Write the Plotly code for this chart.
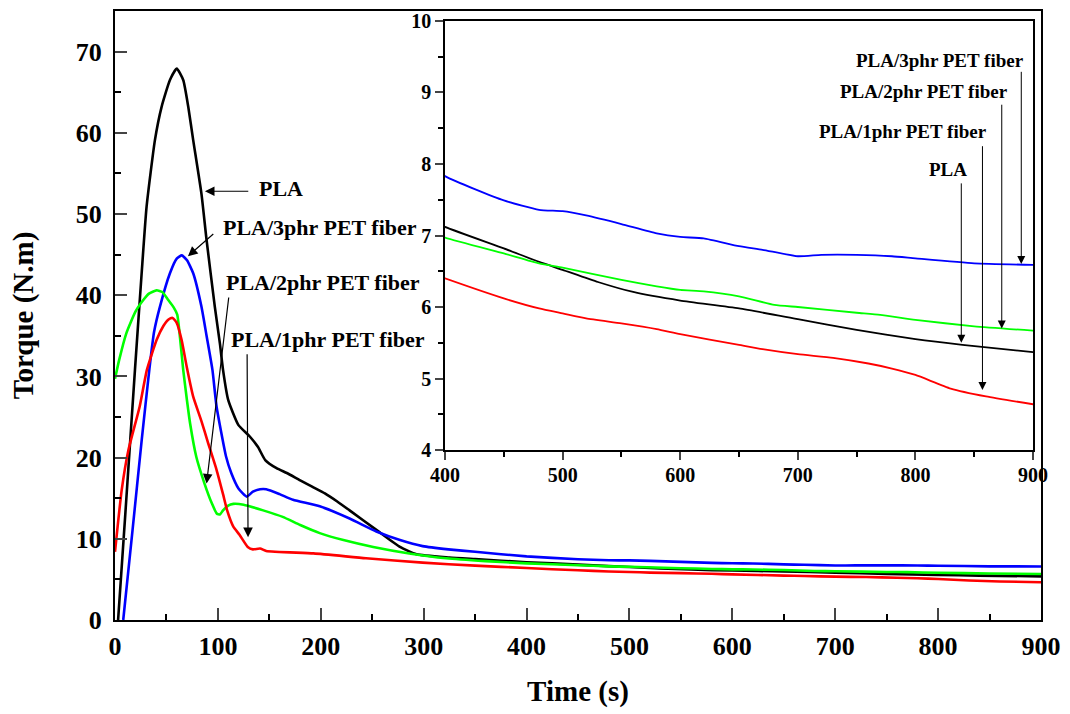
import plotly.graph_objects as go

# Torque curves (time in s, torque in N.m)
t_pla = [3, 10, 19.4, 25.9, 30.7, 38.8, 45.3, 53.4, 60, 66.3, 71.2, 76, 84, 89, 97, 102, 105, 110,
         120, 131, 139, 146, 157, 167, 180, 192, 204, 216, 228, 254, 277, 293, 325, 350, 400, 450,
         480, 500, 530, 560, 600, 650, 700, 750, 800, 840, 900]
v_pla = [0, 13, 30.8, 42.7, 50.9, 59.1, 63.2, 66.5, 67.9, 66.5, 63.2, 59.1, 52.5, 46.8, 38.6, 34, 30.8, 27.1,
         24, 22.6, 21.3, 19.7, 18.7, 18.1, 17.2, 16.4, 15.6, 14.6, 13.5, 11.1, 9.0, 8.1, 7.7, 7.5, 7.12, 6.82,
         6.63, 6.52, 6.35, 6.21, 6.09, 5.98, 5.83, 5.68, 5.55, 5.47, 5.37]

t_3phr = [8, 17, 26, 33.5, 38, 43.7, 53.4, 60, 65, 70, 76, 84, 89, 94.7, 98.7, 108, 113, 120, 128, 134,
          141, 147, 160, 173, 199, 228, 254, 277, 299, 324, 350, 400, 450, 480, 500, 520, 550, 580, 600,
          620, 650, 670, 700, 720, 750, 780, 800, 850, 900]
v_3phr = [0, 11, 22.2, 31, 35.5, 38.6, 42.7, 44.5, 44.9, 44.3, 42.7, 38.6, 35, 30.8, 26.3, 20.1, 18.1, 16.2, 15.2, 15.8,
          16.1, 16.1, 15.5, 14.8, 14.0, 12.5, 10.9, 9.85, 9.1, 8.7, 8.4, 7.83, 7.49, 7.36, 7.34, 7.28, 7.16, 7.03, 6.98,
          6.96, 6.85, 6.80, 6.71, 6.73, 6.73, 6.71, 6.68, 6.61, 6.59]

t_2phr = [0, 4, 11, 20, 27.5, 33, 40.4, 46, 51.8, 57, 60.5, 63, 66.3, 70, 73, 79, 87, 94, 99, 102, 105,
          110, 115, 125, 144, 163, 180, 199, 222, 251, 286, 322, 360, 400, 450, 480, 500, 550, 580, 600,
          620, 650, 680, 700, 750, 770, 800, 850, 900]
v_2phr = [29.7, 32, 35.3, 38, 39.4, 40.2, 40.6, 40.4, 39.4, 38.5, 37.6, 35, 30.8, 27, 24.2, 20.1, 16.8, 14.4, 13.1, 13.0, 13.5,
          14.1, 14.3, 14.2, 13.5, 12.7, 11.7, 10.7, 9.85, 9.0, 8.2, 7.6, 7.25, 6.97, 6.75, 6.61, 6.55, 6.38, 6.29, 6.24,
          6.22, 6.15, 6.03, 6.0, 5.92, 5.89, 5.82, 5.73, 5.67]

t_1phr = [0, 6.5, 13, 24, 31, 40.5, 47, 52, 56, 60, 64.7, 70, 76, 84, 90, 98.7, 105, 109, 115, 121, 129,
          134, 141, 147, 193, 244, 299, 350, 400, 450, 480, 500, 520, 550, 580, 600, 650, 670, 700, 730,
          760, 780, 800, 830, 860, 900]
v_1phr = [8.4, 16, 20.9, 26.3, 30.8, 34.5, 36.2, 37, 37.2, 36.6, 34.5, 31, 27.5, 24.5, 22, 18.5, 15.5, 13.5, 11.5, 10.5, 9.0,
          8.7, 8.8, 8.5, 8.2, 7.6, 7.06, 6.7, 6.4, 6.12, 5.98, 5.91, 5.84, 5.77, 5.69, 5.62, 5.47, 5.41, 5.34, 5.29,
          5.21, 5.14, 5.05, 4.86, 4.75, 4.64]

series = [
    ("PLA", t_pla, v_pla, "#000000"),
    ("PLA/3phr PET fiber", t_3phr, v_3phr, "#0000FF"),
    ("PLA/2phr PET fiber", t_2phr, v_2phr, "#00FF00"),
    ("PLA/1phr PET fiber", t_1phr, v_1phr, "#FF0000"),
]

x_ticks_main = [0, 100, 200, 300, 400, 500, 600, 700, 800, 900]
y_ticks_main = [0, 10, 20, 30, 40, 50, 60, 70]
x_ticks_inset = [400, 500, 600, 700, 800, 900]
y_ticks_inset = [4, 5, 6, 7, 8, 9, 10]

FONT = "Liberation Serif"

fig = go.Figure()
for name, t, v, c in series:
    fig.add_trace(go.Scatter(x=t, y=v, mode="lines", name=name, xaxis="x", yaxis="y",
                             line=dict(color=c, width=2.6, shape="spline", smoothing=0.5)))
for name, t, v, c in series:
    fig.add_trace(go.Scatter(x=t, y=v, mode="lines", name=name, xaxis="x2", yaxis="y2",
                             line=dict(color=c, width=1.8, shape="spline", smoothing=0.5)))

tick_font_main = dict(family=FONT, size=26, color="black", weight="bold")
tick_font_inset = dict(family=FONT, size=20, color="black", weight="bold")

fig.update_layout(
    width=1070, height=714,
    margin=dict(l=115, r=29, t=11, b=94),
    paper_bgcolor="white", plot_bgcolor="white",
    showlegend=False,
    xaxis=dict(domain=[0, 1], range=[0, 900], anchor="y", automargin=False,
               tickvals=x_ticks_main, ticks="inside", ticklen=12, tickwidth=2,
               minor=dict(dtick=50, tick0=0, ticks="inside", ticklen=6, tickwidth=2, tickcolor="black"),
               showline=True, linecolor="black", linewidth=2, mirror=True, showgrid=False, zeroline=False,
               tickfont=tick_font_main, ticklabelstandoff=2,
               title=dict(text="Time (s)", font=dict(family=FONT, size=29, color="black", weight="bold"),
                          standoff=20)),
    yaxis=dict(domain=[0, 1], range=[0, 75], anchor="x", automargin=False,
               tickvals=y_ticks_main, ticks="inside", ticklen=12, tickwidth=2,
               minor=dict(dtick=5, tick0=0, ticks="inside", ticklen=6, tickwidth=2, tickcolor="black"),
               showline=True, linecolor="black", linewidth=2, mirror=True, showgrid=False, zeroline=False,
               tickfont=tick_font_main, ticklabelstandoff=6,
               title=dict(text="Torque (N.m)", font=dict(family=FONT, size=29, color="black", weight="bold"),
                          standoff=34)),
    xaxis2=dict(domain=[0.3564, 0.9914], range=[400, 900], anchor="y2", automargin=False,
                tickvals=x_ticks_inset, ticks="outside", ticklen=8, tickwidth=1.5,
                minor=dict(dtick=50, tick0=0, ticks="outside", ticklen=5, tickwidth=1.5, tickcolor="black"),
                showline=True, linecolor="black", linewidth=1.5, mirror=True, showgrid=False, zeroline=False,
                tickfont=tick_font_inset, ticklabelstandoff=-2),
    yaxis2=dict(domain=[0.2791, 0.9836], range=[4, 10], anchor="x2", automargin=False,
                tickvals=y_ticks_inset, ticks="outside", ticklen=8, tickwidth=1.5,
                minor=dict(dtick=0.5, tick0=0, ticks="outside", ticklen=5, tickwidth=1.5, tickcolor="black"),
                showline=True, linecolor="black", linewidth=1.5, mirror=True, showgrid=False, zeroline=False,
                tickfont=tick_font_inset),
)

label_font_main = dict(family=FONT, size=22, color="black", weight="bold")
label_font_inset = dict(family=FONT, size=19, color="black", weight="bold")

# Labels and pointer arrows on the main axes
main_labels = [("PLA", 161, 53.1), ("PLA/3phr PET fiber", 199, 48.3),
               ("PLA/2phr PET fiber", 202, 41.6), ("PLA/1phr PET fiber", 207, 34.6)]
main_arrows = [((131, 52.8), (87.4, 52.8)), ((97, 47.7), (70.9, 44.8)),
               ((110.7, 39.9), (89, 16.8)), ((128.4, 32.9), (129.3, 10.2))]
for text, x, y in main_labels:
    fig.add_annotation(x=x, y=y, xref="x", yref="y", text=text, showarrow=False, font=label_font_main)
for (tx, ty), (hx, hy) in main_arrows:
    fig.add_annotation(x=hx, y=hy, ax=tx, ay=ty, xref="x", yref="y", axref="x", ayref="y",
                       text="", showarrow=True, arrowhead=2, arrowsize=1.6, arrowwidth=1.2,
                       arrowcolor="black", standoff=0, startstandoff=0)

# Labels and pointer arrows inside the inset
inset_labels = [("PLA/3phr PET fiber", 821, 9.45), ("PLA/2phr PET fiber", 807.7, 9.01),
                ("PLA/1phr PET fiber", 789.5, 8.45), ("PLA", 827.9, 7.92)]
inset_arrows = [((890, 9.31), (890, 6.6)), ((873.4, 8.85), (873.4, 5.7)),
                ((857, 8.27), (857, 4.84)), ((839, 7.75), (839, 5.5))]
for text, x, y in inset_labels:
    fig.add_annotation(x=x, y=y, xref="x2", yref="y2", text=text, showarrow=False, font=label_font_inset)
for (tx, ty), (hx, hy) in inset_arrows:
    fig.add_annotation(x=hx, y=hy, ax=tx, ay=ty, xref="x2", yref="y2", axref="x2", ayref="y2",
                       text="", showarrow=True, arrowhead=2, arrowsize=1.6, arrowwidth=1,
                       arrowcolor="black", standoff=0, startstandoff=0)

fig.write_html("out.html")
